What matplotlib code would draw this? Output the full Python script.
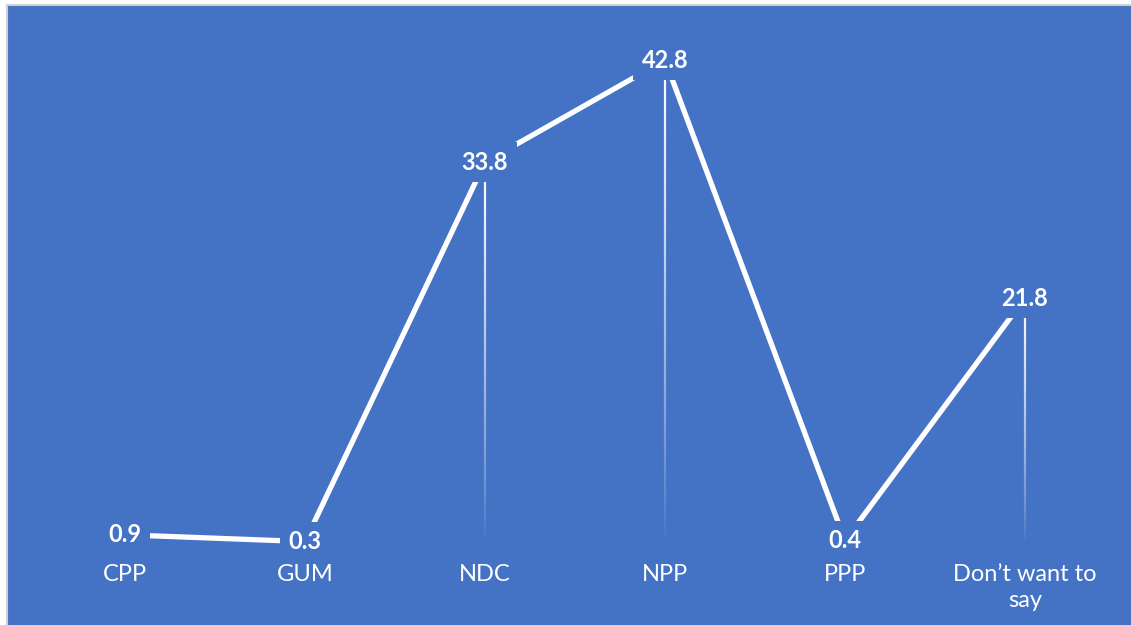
import numpy as np
import matplotlib.pyplot as plt
from matplotlib.collections import LineCollection

parties = ['CPP', 'GUM', 'NDC', 'NPP', 'PPP', 'Don\u2019t want to\nsay']
shares = [0.9, 0.3, 33.8, 42.8, 0.4, 21.8]

blue = '#4472C4'
plt.rcParams['font.family'] = ['Lato', 'DejaVu Sans']

fig = plt.figure(figsize=(11.31, 6.25), dpi=100)
W, H = 1131, 625

# blue chart area starts a few pixels in from the left/top edge
ax = fig.add_axes([7 / W, 0, (W - 7) / W, (H - 5) / H])
ax.set_facecolor(blue)
x = np.arange(len(parties))
ax.set_xlim((7 - 125) / 180, (W - 125) / 180)
ax.set_ylim(-80 / 11.33, 540 / 11.33)
ax.set_xticks([])
ax.set_yticks([])
for side in ['right', 'bottom']:
    ax.spines[side].set_visible(False)
for side in ['left', 'top']:
    ax.spines[side].set_color('#d0d0d0')
    ax.spines[side].set_linewidth(1.5)

# drop lines fading out toward zero
for xi, v in zip(x, shares):
    ys = np.linspace(0, v, 60)
    segs = [[(xi, ys[k]), (xi, ys[k + 1])] for k in range(len(ys) - 1)]
    alphas = np.linspace(0, 1, len(segs)) ** 0.8
    cols = [(1, 1, 1, a) for a in alphas]
    ax.add_collection(LineCollection(segs, colors=cols, linewidths=1.6, zorder=2))

ax.plot(x, shares, color='white', linewidth=3.8, solid_capstyle='butt', zorder=3)

for xi, v in zip(x, shares):
    ax.text(xi, v, f'{v}', color='white', fontsize=17, fontweight='bold',
            ha='center', va='center', zorder=5,
            bbox=dict(boxstyle='square,pad=0.35', facecolor=blue, edgecolor='none'))

for xi, name in zip(x, parties):
    ax.text(xi, -19 / 11.33, name, color='white', fontsize=17,
            ha='center', va='top', linespacing=1.3, zorder=5)

fig.savefig('out.png', dpi=100)
